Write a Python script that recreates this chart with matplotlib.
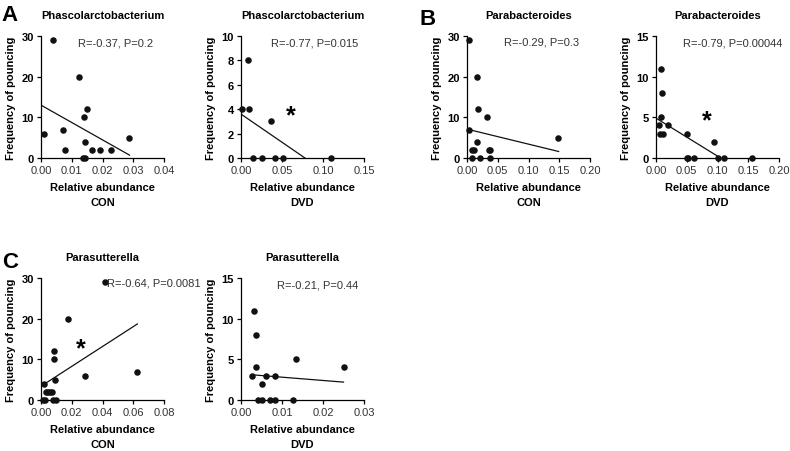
import numpy as np
import matplotlib
matplotlib.use("Agg")
import matplotlib.pyplot as plt

plt.rcParams['font.family'] = ['Liberation Sans', 'DejaVu Sans']
plt.rcParams['font.size'] = 8

# ---- data ----
# A: Phascolarctobacterium
a_con_x = [0.001, 0.004, 0.0073, 0.0078, 0.0122, 0.014, 0.0149, 0.0143, 0.0137, 0.0143, 0.0166, 0.0192, 0.0229, 0.0286]
a_con_y = [6, 29, 7, 2, 20, 10, 12, 4, 0, 0, 2, 2, 2, 5]
a_con_fit_x = [0.0, 0.0288]
a_con_fit_y = [13.0, 0.7]

a_dvd_x = [0.001, 0.009, 0.010, 0.0146, 0.026, 0.0365, 0.042, 0.051, 0.11]
a_dvd_y = [4, 8, 4, 0, 0, 3, 0, 0, 0]
a_dvd_fit_x = [0.0, 0.078]
a_dvd_fit_y = [3.6, 0.0]

# B: Parabacteroides
b_con_x = [0.0027, 0.003, 0.0075, 0.0075, 0.011, 0.016, 0.018, 0.017, 0.021, 0.033, 0.035, 0.037, 0.037, 0.148]
b_con_y = [29, 7, 2, 0, 2, 20, 12, 4, 0, 10, 2, 2, 0, 5]
b_con_fit_x = [0.0, 0.149]
b_con_fit_y = [7.1, 1.6]

b_dvd_x = [0.005, 0.008, 0.009, 0.008, 0.006, 0.011, 0.019, 0.05, 0.05, 0.052, 0.061, 0.094, 0.10, 0.11, 0.156]
b_dvd_y = [4, 11, 8, 5, 3, 3, 4, 3, 0, 0, 0, 2, 0, 0, 0]
b_dvd_fit_x = [0.0, 0.105]
b_dvd_fit_y = [4.9, 0.0]

# C: Parasutterella
c_con_x = [0.0017, 0.001, 0.0028, 0.0035, 0.0048, 0.006, 0.0071, 0.0078, 0.0097, 0.0082, 0.0086, 0.009, 0.0177, 0.0288, 0.0415, 0.0623]
c_con_y = [4, 0, 0, 2, 2, 2, 2, 0, 0, 10, 12, 5, 20, 6, 29, 7]
c_con_fit_x = [0.0017, 0.0627]
c_con_fit_y = [3.8, 18.7]

c_dvd_x = [0.0032, 0.0037, 0.0037, 0.0027, 0.0052, 0.0061, 0.0083, 0.0135, 0.0251, 0.0042, 0.0052, 0.007, 0.0084, 0.0128]
c_dvd_y = [11, 8, 4, 3, 2, 3, 3, 5, 4, 0, 0, 0, 0, 0]
c_dvd_fit_x = [0.0027, 0.025]
c_dvd_fit_y = [3.1, 2.2]

fig = plt.figure(figsize=(7.9, 4.52), dpi=100)


def panel(left, top, title, group, x, y, fx, fy, xmax, xstep, xfmt, ymax, ystep, stat, stat_xy, star=None):
    ax = fig.add_axes([left / 790, 1 - (top + 122) / 452, 123 / 790, 122 / 452])
    ax.scatter(x, y, s=22, color='#111111', zorder=3, clip_on=False, linewidths=0)
    ax.plot(fx, fy, color='#111111', lw=0.9)
    ax.set_xlim(0, xmax)
    ax.set_ylim(0, ymax)
    ax.set_xticks(np.arange(0, xmax + xstep / 2, xstep))
    ax.set_xticklabels([xfmt.format(v) for v in np.arange(0, xmax + xstep / 2, xstep)], color='#333333')
    ax.set_yticks(np.arange(0, ymax + ystep / 2, ystep))
    for lab in ax.get_yticklabels():
        lab.set_fontweight('bold')
    for s in ['top', 'right']:
        ax.spines[s].set_visible(False)
    for s in ['left', 'bottom']:
        ax.spines[s].set_linewidth(0.9)
    ax.tick_params(direction='out', length=3, width=0.9, pad=2)
    ax.set_title(title, fontsize=8, fontweight='bold', pad=13)
    ax.set_ylabel('Frequency of pouncing', fontsize=8, fontweight='bold', labelpad=4)
    ax.set_xlabel('Relative abundance\n' + group, fontsize=8, fontweight='bold', labelpad=5, linespacing=1.7)
    ax.text(stat_xy[0], stat_xy[1], stat, fontsize=8, color='#333333', va='center', ha='left')
    if star is not None:
        ax.text(star[0], star[1], '*', fontsize=18, fontweight='bold', ha='center', va='center')
    return ax


panel(41, 37, 'Phascolarctobacterium', 'CON', a_con_x, a_con_y, a_con_fit_x, a_con_fit_y,
      0.04, 0.01, '{:.2f}', 30, 10, 'R=-0.37, P=0.2', (0.012, 28.5))
panel(241, 37, 'Phascolarctobacterium', 'DVD', a_dvd_x, a_dvd_y, a_dvd_fit_x, a_dvd_fit_y,
      0.15, 0.05, '{:.2f}', 10, 2, 'R=-0.77, P=0.015', (0.036, 9.45), star=(0.061, 3.5))
panel(467, 37, 'Parabacteroides', 'CON', b_con_x, b_con_y, b_con_fit_x, b_con_fit_y,
      0.20, 0.05, '{:.2f}', 30, 10, 'R=-0.29, P=0.3', (0.06, 28.7))
panel(656, 37, 'Parabacteroides', 'DVD', b_dvd_x, b_dvd_y, b_dvd_fit_x, b_dvd_fit_y,
      0.20, 0.05, '{:.2f}', 15, 5, 'R=-0.79, P=0.00044', (0.044, 14.2), star=(0.083, 4.6))
panel(41, 279, 'Parasutterella', 'CON', c_con_x, c_con_y, c_con_fit_x, c_con_fit_y,
      0.08, 0.02, '{:.2f}', 30, 10, 'R=-0.64, P=0.0081', (0.043, 29), star=(0.026, 12.8))
panel(241, 279, 'Parasutterella', 'DVD', c_dvd_x, c_dvd_y, c_dvd_fit_x, c_dvd_fit_y,
      0.03, 0.01, '{:.2f}', 15, 5, 'R=-0.21, P=0.44', (0.0087, 14.2))

fig.text(1 / 790, 1 - 21 / 452, 'A', fontsize=16, fontweight='bold')
fig.text(420 / 790, 1 - 25 / 452, 'B', fontsize=16, fontweight='bold')
fig.text(2 / 790, 1 - 268 / 452, 'C', fontsize=16, fontweight='bold')

fig.savefig('out.png', dpi=100)
